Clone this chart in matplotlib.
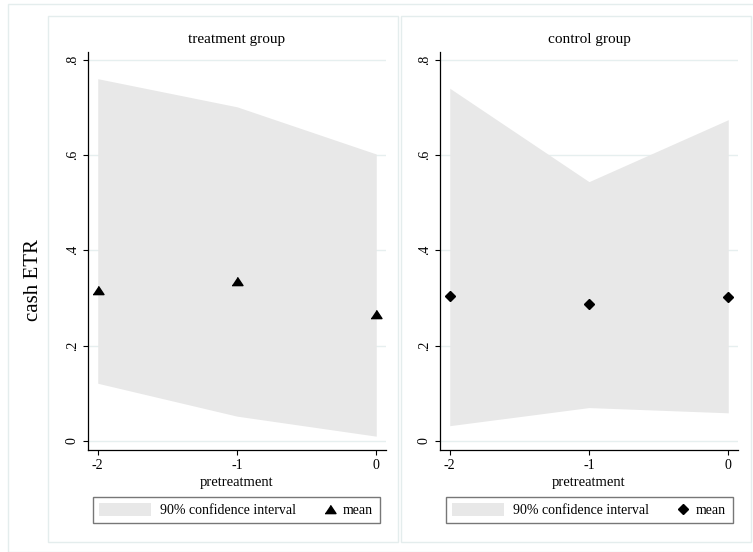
import matplotlib
matplotlib.use("Agg")
import matplotlib.pyplot as plt
from matplotlib.patches import Rectangle, Patch
from matplotlib.lines import Line2D
from matplotlib.legend_handler import HandlerLine2D

# ---- data ----
pretreatment = [-2, -1, 0]
treat_mean = [0.316, 0.336, 0.266]
treat_lo = [0.121, 0.052, 0.010]
treat_hi = [0.760, 0.701, 0.602]
ctrl_mean = [0.304, 0.287, 0.301]
ctrl_lo = [0.032, 0.070, 0.059]
ctrl_hi = [0.740, 0.544, 0.674]
yticks = [0, 0.2, 0.4, 0.6, 0.8]
ytick_labels = ["0", ".2", ".4", ".6", ".8"]
xticks = [-2, -1, 0]
xtick_labels = ["-2", "-1", "0"]
titles = ["treatment group", "control group"]
ylabel = "cash ETR"
xlabel = "pretreatment"
legend_labels = ["90% confidence interval", "mean"]

plt.rcParams['font.family'] = ['Liberation Serif', 'DejaVu Serif']

W, H = 753, 552
fig = plt.figure(figsize=(W / 100, H / 100), dpi=100)
fig.patch.set_facecolor('white')


def fx(px):
    return px / W


def fy(py):
    return 1 - py / H


frame_col = '#e4eded'
grid_col = '#e6efef'
ci_col = '#e8e8e8'

# outer frame and panel frames
fig.patches.append(Rectangle((fx(8), fy(551.5)), 1.0, fy(4) - fy(551.5),
                             transform=fig.transFigure, fill=False,
                             edgecolor=frame_col, lw=1.0, zorder=0))
for (l, r) in [(48, 398), (401, 751)]:
    fig.patches.append(Rectangle((fx(l), fy(542)), fx(r) - fx(l), fy(16) - fy(542),
                                 transform=fig.transFigure, fill=False,
                                 edgecolor=frame_col, lw=1.0, zorder=0))

# wide, flat triangle like Stata's
tri_marker = [(-1, -0.75), (1, -0.75), (0, 0.75)]


class RightMarkerHandler(HandlerLine2D):
    def get_xdata(self, legend, xdescent, ydescent, width, height, fontsize):
        m = -xdescent + width - 0.31 * fontsize
        return [m - 1, m + 1], [m]


panels = [
    (88, treat_lo, treat_hi, treat_mean, tri_marker, 7.9, titles[0], 93),
    (440, ctrl_lo, ctrl_hi, ctrl_mean, 'D', 5.6, titles[1], 446),
]

ax_w_px = 298
ax_top, ax_bot = 52, 450
ax_h_px = ax_bot - ax_top

for (left, lo, hi, mean, mk, ms, title, lx0) in panels:
    ax = fig.add_axes([fx(left), fy(ax_bot), ax_w_px / W, ax_h_px / H])
    ax.set_xlim(-2.07, 0.07)
    ax.set_ylim(-0.019, 0.816)
    ax.yaxis.grid(True, color=grid_col, lw=1.0)
    ax.set_axisbelow(True)
    ax.fill_between(pretreatment, lo, hi, color=ci_col, lw=0, zorder=1)
    ax.plot(pretreatment, mean, ls='none', marker=mk, color='black', ms=ms, zorder=3)
    ax.set_xticks(xticks)
    ax.set_xticklabels(xtick_labels, fontsize=10)
    ax.set_yticks(yticks)
    ax.set_yticklabels(ytick_labels, fontsize=10, rotation=90, va='center')
    ax.tick_params(direction='out', length=3.6, width=0.8, color='black', pad=3)
    for s in ['top', 'right']:
        ax.spines[s].set_visible(False)
    for s in ['left', 'bottom']:
        ax.spines[s].set_color('black')
        ax.spines[s].set_linewidth(0.9)
    ax.set_title(title, fontsize=11, pad=6.5)
    ax.set_xlabel(xlabel, fontsize=10.5, labelpad=3)

    handles = [Patch(facecolor=ci_col, edgecolor='none', label=legend_labels[0]),
               Line2D([], [], ls='none', marker=mk, color='black', ms=ms,
                      label=legend_labels[1])]
    anchor = ((lx0 - left) / ax_w_px, -(497 - ax_bot) / ax_h_px)
    leg = ax.legend(handles=handles, ncol=2, loc='upper left',
                    bbox_to_anchor=anchor, bbox_transform=ax.transAxes,
                    frameon=True, fancybox=False, edgecolor='#555555', fontsize=10,
                    handlelength=3.75, handleheight=1.0, handletextpad=0.63,
                    borderpad=0.45, borderaxespad=0, columnspacing=-0.99,
                    handler_map={Line2D: RightMarkerHandler(numpoints=1)})
    leg.get_frame().set_linewidth(1.0)
    leg.get_frame().set_facecolor('white')

fig.text(fx(33), fy(280), ylabel, rotation=90, fontsize=15, va='center', ha='center')

fig.savefig('out.png', dpi=100, facecolor='white')
